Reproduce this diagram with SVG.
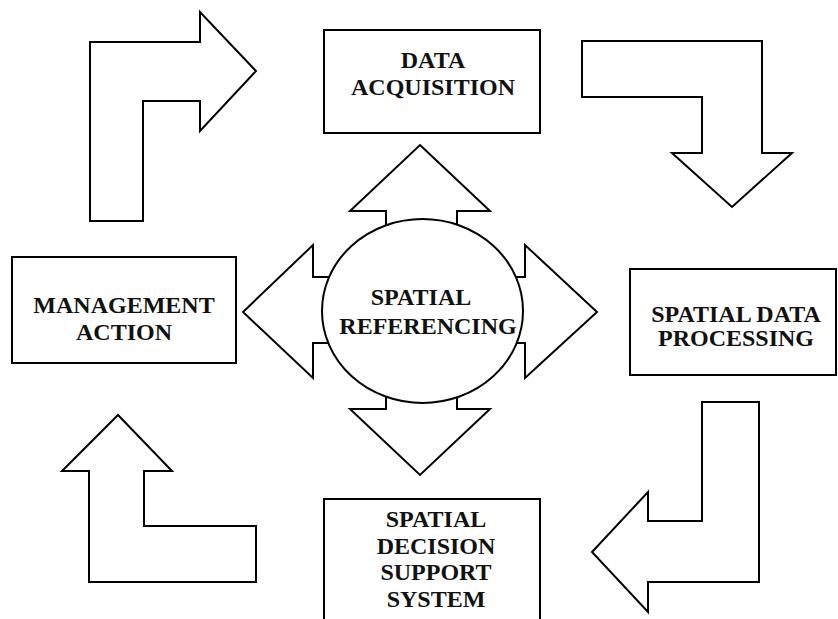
<svg xmlns="http://www.w3.org/2000/svg" width="838" height="619" viewBox="0 0 838 619">
<style>
.box{fill:#fff;stroke:#000;stroke-width:2}
.arr{fill:#fff;stroke:#000;stroke-width:2;stroke-linejoin:miter}
.t{font-family:"Liberation Serif","Times New Roman",serif;font-weight:bold;font-size:24px;text-anchor:middle;fill:#111}
</style>
<rect width="838" height="619" fill="#fff"/>
<g id="connectors">
<polygon class="arr" points="90,221 90,42 200,42 200,12 256,71 200,131 200,101 143,101 143,221"/>
<polygon class="arr" points="582,41 762,41 762,153 792,153 732,207 672,153 702,153 702,97 582,97"/>
<polygon class="arr" points="702,402 759,402 759,582 648,582 648,612 592,552 648,492 648,521 702,521"/>
<polygon class="arr" points="89,582 89,471 62,471 118,415 172,471 144,471 144,526 256,526 256,582"/>
<polygon class="arr" points="420,145 490,211 457,211 457,277 525,277 525,245 597,312 525,378 525,343 457,343 457,409 490,409 420,475 350,409 386,409 386,343 313,343 313,378 243,312 313,245 313,277 386,277 386,211 350,211"/>
</g>
<g id="spatial-referencing">
<ellipse class="box" cx="422.5" cy="311" rx="100.5" ry="92"/>
<text class="t" x="421" y="305">SPATIAL</text>
<text class="t" x="428" y="334">REFERENCING</text>
</g>
<g id="data-acquisition">
<rect class="box" x="324" y="30" width="216" height="103"/>
<text class="t" x="433" y="68">DATA</text>
<text class="t" x="433" y="95">ACQUISITION</text>
</g>
<g id="management-action">
<rect class="box" x="12" y="257" width="224" height="106"/>
<text class="t" x="124" y="313">MANAGEMENT</text>
<text class="t" x="124" y="340">ACTION</text>
</g>
<g id="spatial-data-processing">
<rect class="box" x="630" y="269" width="206" height="106"/>
<text class="t" x="736" y="322">SPATIAL DATA</text>
<text class="t" x="736" y="346">PROCESSING</text>
</g>
<g id="spatial-decision-support-system">
<rect class="box" x="324" y="499" width="216" height="130"/>
<text class="t" x="436" y="527">SPATIAL</text>
<text class="t" x="436" y="554">DECISION</text>
<text class="t" x="436" y="580">SUPPORT</text>
<text class="t" x="436" y="607">SYSTEM</text>
</g>
</svg>
